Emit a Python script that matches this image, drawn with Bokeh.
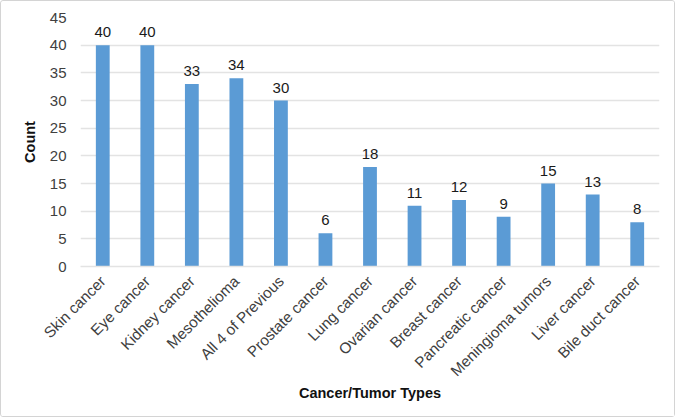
from bokeh.plotting import figure
from bokeh.models import ColumnDataSource, LabelSet, FixedTicker
from bokeh.core.properties import value
from bokeh.embed import file_html
from bokeh.resources import INLINE
from math import pi

categories = ["Skin cancer", "Eye cancer", "Kidney cancer", "Mesothelioma",
              "All 4 of Previous", "Prostate cancer", "Lung cancer",
              "Ovarian cancer", "Breast cancer", "Pancreatic cancer",
              "Meningioma tumors", "Liver cancer", "Bile duct cancer"]
counts = [40, 40, 33, 34, 30, 6, 18, 11, 12, 9, 15, 13, 8]
y_ticks = [0, 5, 10, 15, 20, 25, 30, 35, 40, 45]

FONT = "Liberation Sans"
TEXT = "#404040"

src = ColumnDataSource(dict(cat=categories, count=counts,
                            label=[str(c) for c in counts]))

p = figure(x_range=categories, y_range=(0, 45), width=675, height=417,
           output_backend="svg", toolbar_location=None,
           min_border_left=79, min_border_right=17,
           min_border_top=16, min_border_bottom=152)
p.styles = {"border": "1px solid #d4d4d4", "border-radius": "3px"}
p.outline_line_color = None
p.background_fill_color = "white"
p.border_fill_color = "white"

p.vbar(x="cat", top="count", width=0.31, source=src,
       fill_color="#5B9BD5", line_color=None)

labels = LabelSet(x="cat", y="count", text="label", source=src,
                  text_align="center", text_baseline="bottom",
                  y_offset=8, text_font_size="15px", text_font=value(FONT),
                  text_color="#1a1a1a")
p.add_layout(labels)

p.x_range.range_padding = 0
p.xgrid.grid_line_color = None
p.ygrid.grid_line_color = "#e3e3e3"
p.ygrid.grid_line_width = 1.5
p.yaxis.ticker = FixedTicker(ticks=y_ticks)

for ax in (p.xaxis, p.yaxis):
    ax.major_tick_line_color = None
    ax.minor_tick_line_color = None
    ax.major_label_text_font = FONT
    ax.major_label_text_color = TEXT
    ax.axis_label_text_font = FONT
    ax.axis_label_text_font_size = "14.5px"
    ax.axis_label_text_font_style = "bold"
    ax.axis_label_text_color = "#111111"

p.yaxis.major_label_text_font_size = "15px"
p.xaxis.major_label_text_font_size = "15.3px"
p.yaxis.axis_line_color = None
p.xaxis.axis_line_color = "#e3e3e3"
p.xaxis.axis_line_width = 1.5
p.yaxis.axis_label = "Count"
p.xaxis.axis_label = "Cancer/Tumor Types"
p.xaxis.major_label_orientation = pi / 4
p.yaxis.major_label_standoff = 8
p.xaxis.major_label_standoff = 6
p.yaxis.axis_label_standoff = 9
p.xaxis.axis_label_standoff = -4

open("out.html", "w").write(file_html(p, INLINE))
